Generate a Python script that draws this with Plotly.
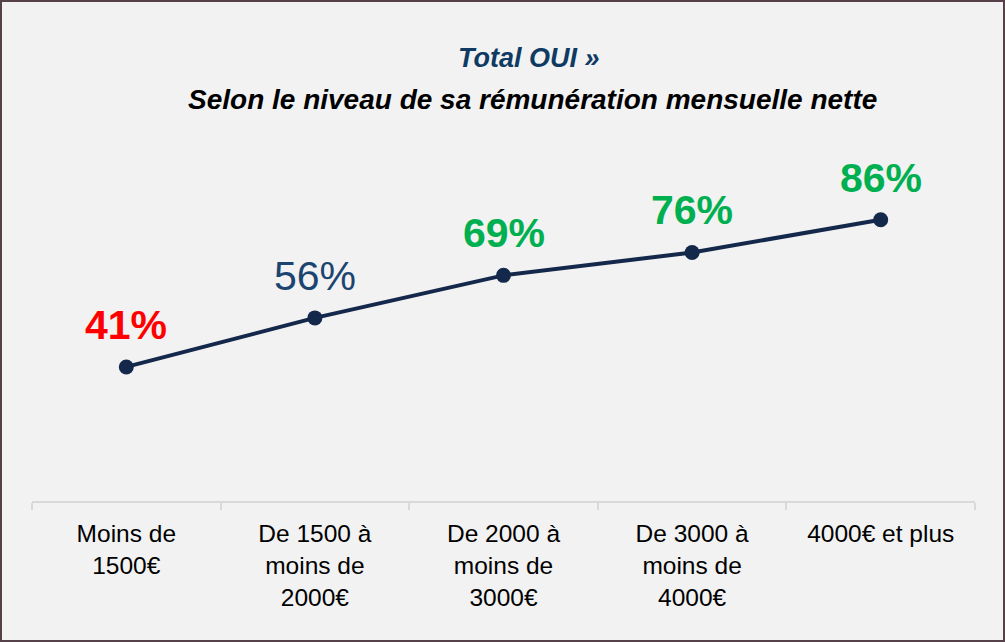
import plotly.graph_objects as go

categories = ["Moins de<br>1500€", "De 1500 à<br>moins de<br>2000€", "De 2000 à<br>moins de<br>3000€",
              "De 3000 à<br>moins de<br>4000€", "4000€ et plus"]
values = [41, 56, 69, 76, 86]
label_colors = ["#ff0000", "#1b4470", "#00b050", "#00b050", "#00b050"]
label_bold = [True, False, True, True, True]

W, H = 1005, 642
L, R, T, B = 32, 30, 174, 141
PW, PH = W - L - R, H - T - B


def px(x):
    return (x - L) / PW


def py(y):
    return (H - B - y) / PH


FONT = "Liberation Sans, Arial, sans-serif"
BG = "#f2f2f2"

fig = go.Figure()
fig.add_trace(go.Scatter(
    x=categories, y=values, mode="lines+markers",
    line=dict(color="#14284b", width=4),
    marker=dict(color="#14284b", size=15),
    hoverinfo="skip", showlegend=False,
))

annotations = []
for c, v, col, b in zip(categories, values, label_colors, label_bold):
    txt = f"{v}%"
    if b:
        txt = f"<b>{txt}</b>"
    annotations.append(dict(
        x=c, y=v, xref="x", yref="y", text=txt, showarrow=False,
        yanchor="bottom", xanchor="center", yshift=17,
        font=dict(family=FONT, size=41, color=col),
    ))

annotations.append(dict(
    x=px(529), y=py(58), xref="paper", yref="paper",
    text="<b><i>Total OUI »</i></b>", showarrow=False,
    xanchor="center", yanchor="middle",
    font=dict(family=FONT, size=27, color="#0f3b63"),
))
annotations.append(dict(
    x=px(532), y=py(99), xref="paper", yref="paper",
    text="<b><i>Selon le niveau de sa rémunération mensuelle nette</i></b>", showarrow=False,
    xanchor="center", yanchor="middle",
    font=dict(family=FONT, size=28, color="#000000"),
))

fig.update_layout(
    width=W, height=H,
    margin=dict(l=L, r=R, t=T, b=B, pad=0),
    paper_bgcolor=BG, plot_bgcolor=BG,
    annotations=annotations,
    shapes=[dict(
        type="rect", xref="paper", yref="paper",
        x0=px(1), x1=px(W - 1), y0=py(H - 1), y1=py(1),
        line=dict(color="#56404a", width=2), fillcolor="rgba(0,0,0,0)", layer="above",
    )],
    xaxis=dict(
        type="category", range=[-0.5, 4.5], showgrid=False, zeroline=False,
        showline=True, linecolor="#d9d9d9", linewidth=1.5,
        ticks="outside", tickson="boundaries", ticklen=7, tickcolor="#d9d9d9", tickwidth=1.5,
        ticklabelstandoff=10,
        tickfont=dict(family=FONT, size=24.5, color="#000000"),
        fixedrange=True,
    ),
    yaxis=dict(
        range=[0, 100], visible=False, showgrid=False, zeroline=False, fixedrange=True,
    ),
)

fig.write_html("out.html", config={"displayModeBar": False},
               post_script="document.body.style.margin='0px';document.body.style.overflow='hidden';")
